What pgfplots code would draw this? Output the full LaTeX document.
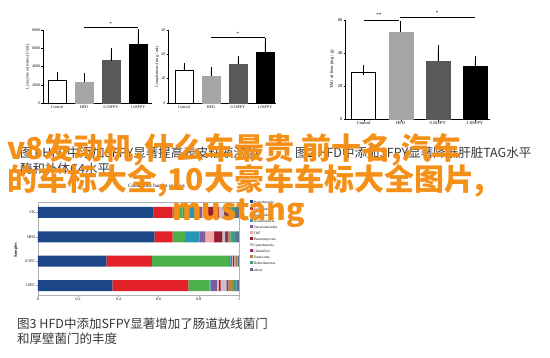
\documentclass[border=0pt]{standalone}
\usepackage{fontspec}
\setmainfont{Liberation Serif}
\newfontfamily\cjk{Noto Sans CJK SC}
\usepackage{pgfplots}
\usepackage{pgfplotstable}
\pgfplotsset{compat=1.18}
\definecolor{orng}{RGB}{244,144,24}
\definecolor{capc}{RGB}{55,55,55}
\definecolor{cP}{RGB}{28,72,138}
\definecolor{cF}{RGB}{226,34,40}
\definecolor{cB}{RGB}{78,176,74}
\definecolor{cA}{RGB}{40,150,185}
\definecolor{cV}{RGB}{124,94,160}
\definecolor{cT}{RGB}{242,170,168}
\definecolor{cPl}{RGB}{150,28,52}
\definecolor{cCy}{RGB}{205,190,205}
\definecolor{cCh}{RGB}{140,58,92}
\definecolor{cTe}{RGB}{172,140,60}
\definecolor{cDe}{RGB}{60,160,128}
\definecolor{cO}{RGB}{92,112,142}
\pgfplotstableread{
s P F B A V T Pl Cy Ch Te De O
0 0.370 0.378 0.106 0.005 0.031 0.010 0.009 0.028 0.010 0.023 0.017 0.013
1 0.340 0.227 0.383 0.008 0.006 0.004 0.008 0.006 0.004 0.006 0.004 0.004
2 0.579 0.091 0.061 0.072 0.028 0.045 0.041 0.013 0.017 0.010 0.028 0.015
3 0.575 0.095 0.050 0.075 0.020 0.030 0.055 0.025 0.020 0.020 0.015 0.020
}\phyla
\pgfplotsset{
  gp/.style={scale only axis, anchor=south west, axis x line*=bottom, axis y line*=left,
    tick align=outside, major tick length=1.5pt, ymin=0, clip=false,
    xtick={0,1,2,3}, xticklabels={Control,HFD,0.5SFPY,1.0SFPY},
    scaled y ticks=false, /pgf/number format/assume math mode=true,
    yticklabel style={/pgf/number format/fixed, /pgf/number format/1000 sep={}},
    ticklabel style={font=\fontsize{4}{4}\selectfont, inner sep=1pt},
    tick style={black, line width=0.4pt}, axis line style={line width=0.4pt},
    ylabel style={anchor=center, font=\fontsize{4}{4}\selectfont},
    ybar, bar shift=0pt},
  eb/.style={error bars/.cd, y dir=plus, y explicit, error bar style={black, line width=0.5pt},
    error mark options={black, mark size=#1, line width=0.5pt}},
}
\begin{document}
\begin{tikzpicture}
\path[use as bounding box, fill=white] (0,0) rectangle (550pt,357pt);
% chart 1
\begin{axis}[gp, at={(43pt,254pt)}, width=109pt, height=73pt, xmin=-0.52, xmax=3.52, ymax=8000,
  ytick={0,2000,4000,6000,8000}, bar width=18pt,
  ylabel={Lysozyme activities (U/mL)}, ylabel style={at={(axis description cs:-0.14,0.5)}}]
\addplot[fill=white, draw=black, line width=0.5pt, eb=4pt] coordinates {(0,2520) +- (0,480)};
\addplot[fill=gray!70, draw=gray!70, eb=4pt] coordinates {(1,2330) +- (0,520)};
\addplot[fill=black!65, draw=black!65, eb=4pt] coordinates {(2,4640) +- (0,960)};
\addplot[fill=black, draw=black, eb=4pt] coordinates {(3,6470) +- (0,1170)};
\draw[line width=0.4pt] (axis cs:1,8330) -- (axis cs:3,8330);
\node[font=\fontsize{5}{5}\selectfont, inner sep=0pt] at (axis cs:2,8650) {*};
\end{axis}
% chart 2
\begin{axis}[gp, at={(168pt,254pt)}, width=108pt, height=73pt, xmin=-0.59, xmax=3.41, ymax=30,
  ytick={0,10,20,30}, bar width=18pt,
  ylabel={Complement 4 (mg / mL)}, ylabel style={at={(axis description cs:-0.10,0.5)}}]
\addplot[fill=white, draw=black, line width=0.5pt, eb=4pt] coordinates {(0,13.6) +- (0,1.1)};
\addplot[fill=gray!70, draw=gray!70, eb=4pt] coordinates {(1,11.1) +- (0,2.1)};
\addplot[fill=black!65, draw=black!65, eb=4pt] coordinates {(2,16.0) +- (0,1.7)};
\addplot[fill=black, draw=black, eb=4pt] coordinates {(3,20.8) +- (0,4.4)};
\draw[line width=0.4pt] (axis cs:1,27.1) -- (axis cs:3,27.1);
\node[font=\fontsize{5}{5}\selectfont, inner sep=0pt] at (axis cs:2,28.3) {*};
\end{axis}
% chart 3
\begin{axis}[gp, at={(345pt,238pt)}, width=145pt, height=99pt, xmin=-0.505, xmax=3.41, ymax=60,
  ytick={0,20,40,60}, bar width=24pt,
  ticklabel style={font=\fontsize{4.5}{4.5}\selectfont},
  ylabel={TAG of liver (mg / g)}, ylabel style={at={(axis description cs:-0.09,0.5)}, font=\fontsize{4.5}{4.5}\selectfont}]
\addplot[fill=white, draw=black, line width=0.5pt, eb=5pt] coordinates {(0,28.5) +- (0,1.0)};
\addplot[fill=gray!70, draw=gray!70, eb=5pt] coordinates {(1,52.7) +- (0,3.7)};
\addplot[fill=black!65, draw=black!65, eb=5pt] coordinates {(2,35.3) +- (0,6.3)};
\addplot[fill=black, draw=black, eb=5pt] coordinates {(3,31.9) +- (0,3.3)};
\draw[line width=0.4pt] (axis cs:0,59.6) -- (axis cs:0.95,59.6);
\node[font=\fontsize{5}{5}\selectfont, inner sep=0pt] at (axis cs:0.41,63.0) {**};
\draw[line width=0.4pt] (axis cs:0.98,61.6) -- (axis cs:3,61.6);
\node[font=\fontsize{5}{5}\selectfont, inner sep=0pt] at (axis cs:1.98,64.4) {*};
\end{axis}
% bottom chart
\begin{axis}[scale only axis, anchor=south west, at={(38pt,62pt)}, width=201pt, height=93pt,
  xbar stacked, bar width=11pt, xmin=0, xmax=1, ymin=-0.39, ymax=3.43,
  ytick={0,1,2,3}, yticklabels={1.0FC,0.5FC,HFD,CK},
  xtick={0,0.2,0.4,0.6,0.8,1}, xticklabels={0,0.2,0.4,0.6,0.8,1},
  axis line style={gray!60, line width=0.3pt}, tick style={gray!70, line width=0.3pt},
  tick align=outside, major tick length=1.5pt, xtick pos=bottom, ytick pos=left,
  ticklabel style={font=\fontsize{4}{4}\selectfont, inner sep=1pt},
  ylabel={Samples}, ylabel style={anchor=center, at={(axis description cs:-0.11,0.48)}, font=\fontsize{4}{4}\selectfont\bfseries},
  legend cell align=left,
  legend style={draw=none, fill=none, at={(axis description cs:1.04,1.04)}, anchor=north west,
    font=\fontsize{3.5}{4}\selectfont, row sep=1.1pt,
    nodes={inner sep=0.5pt, text height=3pt, text depth=1pt}},
  legend image code/.code={\fill[#1] (0pt,-0.5pt) rectangle (3pt,2.5pt);},
  clip=false]
\addplot[fill=cP, draw=none] table[x=P, y=s] {\phyla};
\addplot[fill=cF, draw=none] table[x=F, y=s] {\phyla};
\addplot[fill=cB, draw=none] table[x=B, y=s] {\phyla};
\addplot[fill=cA, draw=none] table[x=A, y=s] {\phyla};
\addplot[fill=cV, draw=none] table[x=V, y=s] {\phyla};
\addplot[fill=cT, draw=none] table[x=T, y=s] {\phyla};
\addplot[fill=cPl, draw=none] table[x=Pl, y=s] {\phyla};
\addplot[fill=cCy, draw=none] table[x=Cy, y=s] {\phyla};
\addplot[fill=cCh, draw=none] table[x=Ch, y=s] {\phyla};
\addplot[fill=cTe, draw=none] table[x=Te, y=s] {\phyla};
\addplot[fill=cDe, draw=none] table[x=De, y=s] {\phyla};
\addplot[fill=cO, draw=none] table[x=O, y=s] {\phyla};
\legend{Proteobacteria,Firmicutes,Bacteroidetes,Actinobacteria,Verrucomicrobia,TM7,Planctomycetes,Cyanobacteria,Chloroflexi,Tenericutes,Deferribacteres,others}
\node[font=\fontsize{5}{5}\selectfont, inner sep=0pt] at (axis description cs:0.59,1.17) {Community barplot analysis};
\end{axis}
% captions
\node[anchor=base west, inner sep=0pt, text=capc, font=\cjk\fontsize{12.5}{12.5}\selectfont] at (20pt,199pt) {图1 HFD中添加SFPY显著提高表皮粘液溶菌};
\node[anchor=base west, inner sep=0pt, text=capc, font=\cjk\fontsize{12.5}{12.5}\selectfont] at (20pt,183pt) {酶和补体C4水平};
\node[anchor=base west, inner sep=0pt, text=capc, font=\cjk\fontsize{12.5}{12.5}\selectfont] at (295pt,199pt) {图2 HFD中添加SFPY显著降低肝脏TAG水平};
\node[anchor=base west, inner sep=0pt, text=capc, font=\cjk\fontsize{12.5}{12.5}\selectfont] at (17pt,29pt) {图3 HFD中添加SFPY显著增加了肠道放线菌门};
\node[anchor=base west, inner sep=0pt, text=capc, font=\cjk\fontsize{12.5}{12.5}\selectfont] at (17pt,14pt) {和厚壁菌门的丰度};
% overlay title
\node[anchor=base west, inner sep=0pt, text=orng, font=\cjk\bfseries\fontsize{30}{30}\selectfont] at (7pt,197pt) {v8发动机,什么车最贵 前十名,汽车};
\node[anchor=base west, inner sep=0pt, text=orng, font=\cjk\bfseries\fontsize{30}{30}\selectfont] at (7pt,167pt) {的车标大全,10大豪车车标大全图片,};
\node[anchor=base west, inner sep=0pt, text=orng, font=\cjk\bfseries\fontsize{30}{30}\selectfont] at (172pt,137pt) {mustang};
\end{tikzpicture}
\end{document}
